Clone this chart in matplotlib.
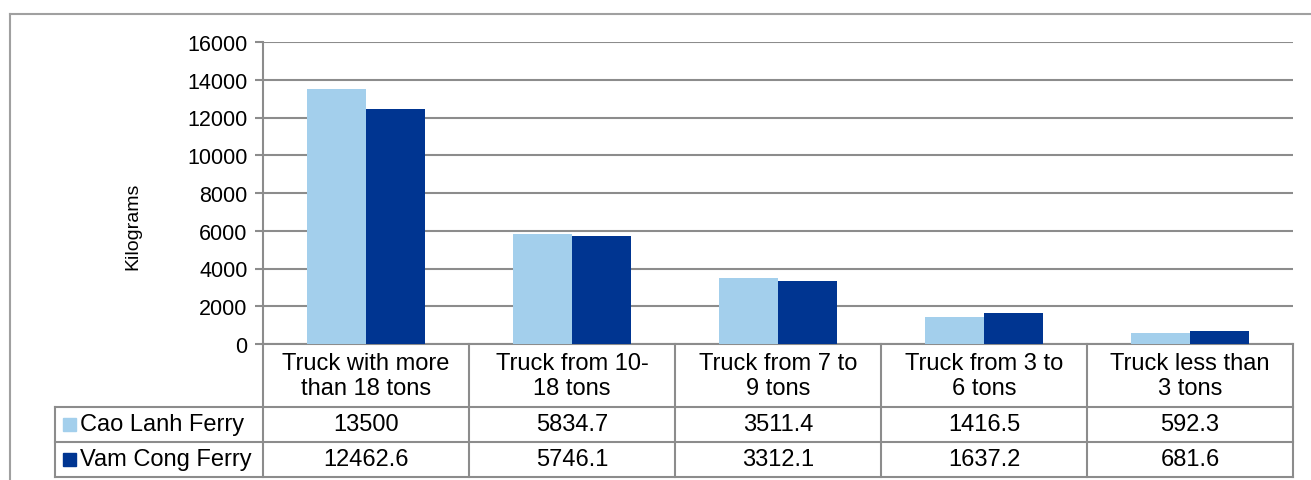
import numpy as np
import matplotlib.pyplot as plt
from matplotlib.lines import Line2D
from matplotlib.patches import Rectangle
from matplotlib.transforms import blended_transform_factory

plt.rcParams['font.family'] = ['Liberation Sans', 'DejaVu Sans']

categories = ["Truck with more\nthan 18 tons", "Truck from 10-\n18 tons", "Truck from 7 to\n9 tons",
              "Truck from 3 to\n6 tons", "Truck less than\n3 tons"]
series = ["Cao Lanh Ferry", "Vam Cong Ferry"]
cao_lanh = [13500, 5834.7, 3511.4, 1416.5, 592.3]
vam_cong = [12462.6, 5746.1, 3312.1, 1637.2, 681.6]
labels_cao = ["13500", "5834.7", "3511.4", "1416.5", "592.3"]
labels_vam = ["12462.6", "5746.1", "3312.1", "1637.2", "681.6"]
colors = ["#a3cfec", "#003591"]
grid_col = "#8c8c8c"
fs_tick = 15.5
fs_tab = 17

W, H = 1311, 481
fig = plt.figure(figsize=(W / 100, H / 100), dpi=100)
ax = fig.add_axes([263 / W, (H - 345) / H, 1030 / W, 302 / H])

x = np.arange(len(categories))
bw = 0.285
ax.bar(x - bw / 2, cao_lanh, bw, color=colors[0], zorder=3)
ax.bar(x + bw / 2, vam_cong, bw, color=colors[1], zorder=3)

ax.set_xlim(-0.5, len(categories) - 0.5)
ax.set_ylim(0, 16000)
ax.set_yticks(range(0, 16001, 2000))
ax.set_xticks([])
ax.tick_params(axis='y', labelsize=fs_tick, length=6, width=1.5, color=grid_col, pad=5)
ax.yaxis.grid(True, color=grid_col, linewidth=1.5, zorder=0)
for s in ["top", "right", "bottom"]:
    ax.spines[s].set_visible(False)
ax.spines["left"].set_color(grid_col)
ax.spines["left"].set_linewidth(1.5)
ax.set_ylabel("Kilograms", fontsize=14)
ax.yaxis.set_label_coords(-0.118, 0.394)

# data table under the plot
tr = blended_transform_factory(ax.transData, ax.transAxes)
row_y = [0.0, -0.2086, -0.3245, -0.4404]
x_left = -0.5
x_right = len(categories) - 0.5
lk = dict(color=grid_col, linewidth=1.5, clip_on=False)
# horizontal lines
ax.add_line(Line2D([x_left, x_right], [row_y[0]] * 2, transform=tr, **lk))
for yy in row_y[1:]:
    ax.add_line(Line2D([-0.2019, 1.0], [yy] * 2, transform=ax.transAxes, **lk))
# vertical lines
for i in range(len(categories) + 1):
    ax.add_line(Line2D([x_left + i] * 2, [row_y[0], row_y[-1]], transform=tr, **lk))
ax.add_line(Line2D([-0.2019] * 2, [row_y[1], row_y[-1]], transform=ax.transAxes, **lk))

for i, cat in enumerate(categories):
    ax.text(i, (row_y[0] + row_y[1]) / 2, cat, transform=tr, ha='center', va='center',
            fontsize=fs_tab, linespacing=1.2)
    ax.text(i, (row_y[1] + row_y[2]) / 2, labels_cao[i], transform=tr, ha='center',
            va='center', fontsize=fs_tab)
    ax.text(i, (row_y[2] + row_y[3]) / 2, labels_vam[i], transform=tr, ha='center',
            va='center', fontsize=fs_tab)

for j, name in enumerate(series):
    yc = (row_y[j + 1] + row_y[j + 2]) / 2
    ax.add_patch(Rectangle((-0.1941, yc - 0.022), 0.0127, 0.044, transform=ax.transAxes,
                           color=colors[j], clip_on=False))
    ax.text(-0.1775, yc, name, transform=ax.transAxes, ha='left', va='center', fontsize=fs_tab)

# outer chart frame
fig.add_artist(Line2D([10 / W, 10 / W], [0, (H - 15) / H], transform=fig.transFigure,
                      color="#a0a0a0", linewidth=1.5))
fig.add_artist(Line2D([10 / W, 1], [(H - 15) / H] * 2, transform=fig.transFigure,
                      color="#a0a0a0", linewidth=1.5))

fig.savefig("out.png", dpi=100)
